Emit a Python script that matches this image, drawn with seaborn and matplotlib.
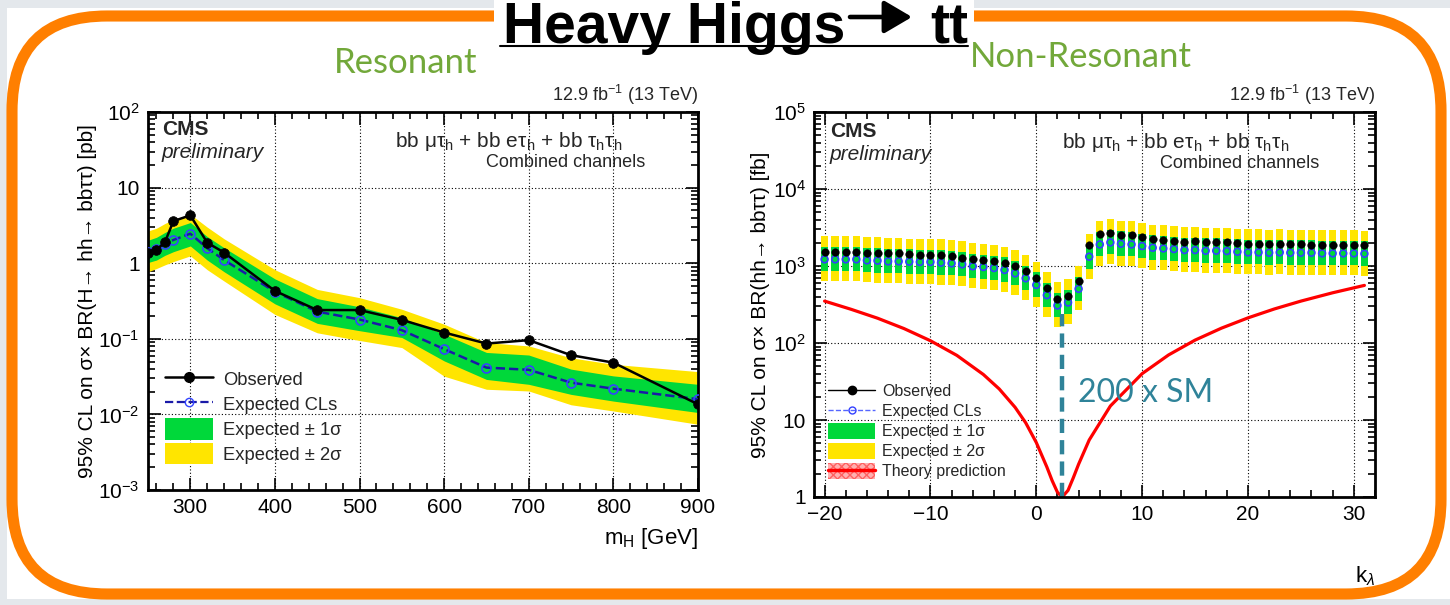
import numpy as np
import matplotlib
matplotlib.use("Agg")
import matplotlib.pyplot as plt
import seaborn as sns
from matplotlib.patches import FancyBboxPatch, Rectangle, Patch, FancyArrowPatch, ArrowStyle
from matplotlib.lines import Line2D
from matplotlib.ticker import FuncFormatter, LogLocator, NullFormatter, MultipleLocator

# ---------------- data: resonant (left) ----------------
res_mass = [250, 260, 270, 280, 300, 320, 340, 400, 450, 500, 550, 600, 650, 700, 750, 800, 900]
res_obs = [1.38, 1.50, 1.90, 3.6, 4.3, 1.87, 1.38, 0.43, 0.24, 0.24, 0.178, 0.121, 0.0865, 0.096, 0.0607, 0.0484, 0.0136]
res_exp = [1.41, 1.55, 1.78, 2.03, 2.46, 1.58, 1.10, 0.42, 0.229, 0.18, 0.13, 0.073, 0.0416, 0.0389, 0.0263, 0.0219, 0.0159]
res_1s_lo = [1.02, 1.10, 1.27, 1.42, 1.69, 1.10, 0.77, 0.29, 0.16, 0.128, 0.104, 0.051, 0.029, 0.025, 0.0184, 0.015, 0.0106]
res_1s_hi = [2.01, 2.20, 2.55, 2.90, 3.45, 2.25, 1.60, 0.62, 0.34, 0.265, 0.19, 0.115, 0.066, 0.061, 0.0397, 0.0323, 0.025]
res_2s_lo = [0.77, 0.85, 0.95, 1.05, 1.25, 0.82, 0.58, 0.21, 0.12, 0.095, 0.0765, 0.032, 0.0215, 0.0204, 0.0134, 0.0111, 0.0074]
res_2s_hi = [2.67, 2.90, 3.35, 3.80, 4.45, 3.00, 2.10, 0.82, 0.45, 0.35, 0.246, 0.156, 0.089, 0.0805, 0.056, 0.046, 0.0368]

# ---------------- data: non-resonant (right) ----------------
kl = list(range(-20, 32))
nr_obs = [1531, 1531, 1516, 1531, 1487, 1473, 1459, 1473, 1443, 1402, 1402, 1374, 1334, 1282, 1232, 1196, 1149,
          1093, 1000, 871, 706, 514, 378, 413, 640, 1870, 2566, 2698, 2541, 2493, 2349, 2255, 2168, 2128, 2064,
          2106, 2024, 2024, 2024, 1983, 1924, 1905, 1924, 1905, 1905, 1905, 1887, 1870, 1870, 1870, 1870, 1851]
nr_exp = [1220, 1220, 1220, 1220, 1183, 1172, 1149, 1149, 1138, 1127, 1127, 1104, 1082, 1051, 991, 971, 942,
          888, 804, 693, 568, 418, 307, 336, 505, 1321, 1905, 2024, 1945, 1905, 1815, 1726, 1691, 1660, 1611,
          1611, 1578, 1578, 1563, 1531, 1503, 1503, 1487, 1503, 1487, 1487, 1487, 1459, 1459, 1459, 1459, 1443]
nr_1s_hi = [1770, 1770, 1770, 1770, 1715, 1700, 1665, 1665, 1650, 1635, 1635, 1600, 1570, 1525, 1435, 1410, 1365,
            1290, 1165, 1005, 825, 605, 445, 490, 730, 1915, 2760, 2935, 2820, 2760, 2630, 2500, 2450, 2405, 2335,
            2335, 2290, 2290, 2265, 2220, 2180, 2180, 2155, 2180, 2155, 2155, 2155, 2115, 2115, 2115, 2115, 2090]
nr_1s_lo = [855, 855, 855, 855, 830, 820, 805, 805, 795, 790, 790, 775, 755, 735, 695, 680, 660,
            620, 565, 485, 400, 295, 215, 235, 355, 925, 1335, 1415, 1360, 1335, 1270, 1210, 1185, 1160, 1130,
            1130, 1105, 1105, 1095, 1070, 1050, 1050, 1040, 1050, 1040, 1040, 1040, 1020, 1020, 1020, 1020, 1010]
nr_2s_hi = [2440, 2440, 2440, 2440, 2365, 2345, 2300, 2300, 2275, 2255, 2255, 2210, 2165, 2100, 1980, 1940, 1885,
            1775, 1610, 1385, 1135, 835, 615, 670, 1010, 2640, 3810, 4050, 3890, 3810, 3630, 3450, 3380, 3320, 3220,
            3220, 3155, 3155, 3125, 3060, 3005, 3005, 2975, 3005, 2975, 2975, 2975, 2920, 2920, 2920, 2920, 2885]
nr_2s_lo = [635, 635, 635, 635, 615, 610, 600, 600, 590, 585, 585, 575, 565, 545, 515, 505, 490,
            460, 420, 360, 295, 215, 160, 175, 265, 685, 990, 1050, 1010, 990, 945, 900, 880, 865, 840,
            840, 820, 820, 815, 795, 780, 780, 775, 780, 775, 775, 775, 760, 760, 760, 760, 750]
theory_kl = [-20, -17.5, -15, -12.5, -10, -7.5, -5, -3.5, -2, -1, 0, 1, 1.5, 2, 2.45, 3, 3.5, 4, 5, 7, 10,
             12.5, 15, 17.5, 20, 22.5, 25, 28, 31]
theory_xs = [350, 274, 210, 154, 107, 69, 39, 25.3, 14.6, 9.2, 5.1, 2.45, 1.63, 1.15, 1.0, 1.22, 1.78, 2.67,
             5.5, 15.2, 40, 70, 109, 156, 212, 277, 350, 449, 560]
sm_min_kl = 2.45
limit_at_min = 240

# ---------------- style ----------------
sns.set_theme(style="ticks")
plt.rcParams['font.family'] = ['Liberation Sans', 'DejaVu Sans']
plt.rcParams['mathtext.fontset'] = 'custom'
plt.rcParams['mathtext.rm'] = 'Liberation Sans'
plt.rcParams['mathtext.it'] = 'Liberation Sans:italic'
plt.rcParams['mathtext.bf'] = 'Liberation Sans:bold'

YELLOW = '#ffe500'
GREEN = '#00d83a'
ORANGE = '#ff7f00'
LGREEN = '#72a83a'
TEAL = '#2f8399'

W, H = 1450, 605
fig = plt.figure(figsize=(14.5, 6.05), dpi=100)
fig.patch.set_facecolor('white')


def fx(px):
    return px / W


def fy(py):
    return 1 - py / H


# slide decoration (drawn below the axes)
fig.patches.append(Rectangle((0, 0), fx(7), 1, transform=fig.transFigure, facecolor='#e4e8ec', lw=0, zorder=-5))
fig.patches.append(Rectangle((0, fy(8)), 1, 8 / H, transform=fig.transFigure, facecolor='#e4e8ec', lw=0, zorder=-5))
fig.patches.append(Rectangle((0, 0), 1, 6 / H, transform=fig.transFigure, facecolor='#e4e8ec', lw=0, zorder=-5))
fig.patches.append(FancyBboxPatch((0.12, 0.11), 14.29, 5.78, boxstyle="round,pad=0,rounding_size=0.95",
                                  transform=fig.dpi_scale_trans, facecolor='white', edgecolor=ORANGE,
                                  lw=8, zorder=-4))
fig.patches.append(Rectangle((fx(494), fy(47)), (974 - 494) / W, 47 / H, transform=fig.transFigure,
                             facecolor='white', lw=0, zorder=-3))
fig.text(fx(503), fy(43), "Heavy Higgs", ha='left', va='baseline', fontsize=41, fontweight='bold',
         family=['Liberation Sans', 'DejaVu Sans'], color='black')
fig.patches.append(FancyArrowPatch((fx(850), fy(17)), (fx(912), fy(17)), transform=fig.transFigure,
                                   arrowstyle=ArrowStyle('-|>', head_length=0.85, head_width=0.5),
                                   mutation_scale=20, lw=3.3, color='black', shrinkA=0, shrinkB=0, zorder=3))
fig.text(fx(968), fy(43), "tt", ha='right', va='baseline', fontsize=41, fontweight='bold',
         family=['Liberation Sans', 'DejaVu Sans'], color='black')
fig.lines.append(Line2D([fx(500), fx(968)], [fy(46), fy(46)], transform=fig.transFigure, color='black', lw=1.5))
fig.text(fx(406), fy(63), "Resonant", ha='center', va='center', fontsize=25, family=['Lato', 'DejaVu Sans'],
         color=LGREEN)
fig.text(fx(1081), fy(57), "Non-Resonant", ha='center', va='center', fontsize=25, family=['Lato', 'DejaVu Sans'],
         color=LGREEN)


def logfmt(v, pos):
    e = int(round(np.log10(v)))
    if e == 0:
        return '1'
    if e == 1:
        return '10'
    return r'$10^{%d}$' % e


def style_axes(ax):
    ax.set_yscale('log')
    ax.yaxis.set_major_locator(LogLocator(base=10, numticks=20))
    ax.yaxis.set_minor_locator(LogLocator(base=10, subs=np.arange(2, 10), numticks=20))
    ax.yaxis.set_minor_formatter(NullFormatter())
    ax.yaxis.set_major_formatter(FuncFormatter(logfmt))
    ax.tick_params(which='both', direction='in', top=True, right=True, labelsize=15, width=1.2, color='black',
                   labelcolor='black')
    ax.tick_params(which='major', length=9, pad=6)
    ax.tick_params(which='minor', length=5)
    for s in ax.spines.values():
        s.set_linewidth(2.0)
        s.set_color('black')
    ax.set_axisbelow(True)
    ax.grid(True, which='major', linestyle=(0, (1, 2)), color='black', lw=0.8)
    ax.set_facecolor('white')


# ---------------- left: resonant ----------------
ax1 = fig.add_axes([fx(148), fy(490), (698 - 148) / W, (490 - 112) / H])
style_axes(ax1)
ax1.fill_between(res_mass, res_2s_lo, res_2s_hi, color=YELLOW, lw=0, zorder=1)
ax1.fill_between(res_mass, res_1s_lo, res_1s_hi, color=GREEN, lw=0, zorder=1.1)
sns.lineplot(x=res_mass, y=res_exp, ax=ax1, color='#1a1aa8', linestyle='--', lw=1.8, marker='o', markersize=6.5,
             markerfacecolor='none', markeredgecolor='#3344ff', markeredgewidth=1.2, legend=False,
             estimator=None, sort=False, zorder=3)
sns.lineplot(x=res_mass, y=res_obs, ax=ax1, color='black', lw=1.8, marker='o', markersize=7,
             markerfacecolor='black', markeredgecolor='black', markeredgewidth=0.5, legend=False,
             estimator=None, sort=False, zorder=4)
ax1.set_xlim(250, 900)
ax1.set_ylim(1e-3, 1e2)
ax1.xaxis.set_major_locator(MultipleLocator(100))
ax1.xaxis.set_minor_locator(MultipleLocator(20))
ax1.set_ylabel("95% CL on σ× BR(H→ hh→ bbττ) [pb]", fontsize=15, color='black')
ax1.yaxis.set_label_coords(-0.093, 0.5)
ax1.set_xlabel(r"m$_{\rm H}$ [GeV]", fontsize=16, color='black', loc='right')
ax1.xaxis.set_label_coords(1.0, -0.095)

ax1.text(0.025, 0.978, "CMS", transform=ax1.transAxes, fontsize=15, fontweight='bold', va='top', ha='left')
ax1.text(0.025, 0.918, "preliminary", transform=ax1.transAxes, fontsize=15, style='italic', va='top', ha='left')
ax1.text(0.449, 0.952, r"bb μτ$_{\rm h}$ + bb eτ$_{\rm h}$ + bb τ$_{\rm h}$τ$_{\rm h}$", transform=ax1.transAxes,
         fontsize=15, va='top', ha='left')
ax1.text(0.76, 0.888, "Combined channels", transform=ax1.transAxes, fontsize=13, va='top', ha='center')
ax1.text(1.0, 1.012, r"12.9 fb$^{-1}$ (13 TeV)", transform=ax1.transAxes, fontsize=13, va='bottom', ha='right')

h_obs = Line2D([], [], color='black', lw=1.8, marker='o', markersize=7)
h_exp = Line2D([], [], color='#1a1aa8', lw=1.6, linestyle='--', marker='o', markersize=6,
               markerfacecolor='none', markeredgecolor='#3344ff')
h_1s = Patch(facecolor=GREEN, edgecolor='none')
h_2s = Patch(facecolor=YELLOW, edgecolor='none')
leg1 = ax1.legend([h_obs, h_exp, h_1s, h_2s], ["Observed", "Expected CLs", "Expected ± 1σ", "Expected ± 2σ"],
                  loc='upper left', bbox_to_anchor=(0.031, 0.321), frameon=False, fontsize=13.2,
                  handlelength=2.6, handleheight=1.4, labelspacing=0.2, handletextpad=0.55, borderpad=0,
                  borderaxespad=0)

# ---------------- right: non-resonant ----------------
ax2 = fig.add_axes([fx(814), fy(497), (1375 - 814) / W, (497 - 112) / H])
style_axes(ax2)
ax2.bar(kl, np.array(nr_2s_hi) - np.array(nr_2s_lo), bottom=nr_2s_lo, width=0.7, color=YELLOW, lw=0, zorder=1)
ax2.bar(kl, np.array(nr_1s_hi) - np.array(nr_1s_lo), bottom=nr_1s_lo, width=0.7, color=GREEN, lw=0, zorder=1.1)
sns.lineplot(x=theory_kl, y=theory_xs, ax=ax2, color='#ff0000', lw=2.3, legend=False, estimator=None,
             sort=False, zorder=2)
ax2.plot([sm_min_kl, sm_min_kl], [1, limit_at_min], color=TEAL, lw=3.2, dashes=(3.2, 1.6), zorder=2.5)
sns.scatterplot(x=kl, y=nr_obs, ax=ax2, color='black', s=30, edgecolor='black', linewidth=0.3, legend=False,
                zorder=4)
sns.scatterplot(x=kl, y=nr_exp, ax=ax2, marker='o', s=24, facecolor='none', edgecolor='#3340ff', linewidth=1.2,
                legend=False, zorder=3)
ax2.set_xlim(-21, 32)
ax2.set_ylim(1, 1e5)
ax2.xaxis.set_major_locator(MultipleLocator(10))
ax2.xaxis.set_minor_locator(MultipleLocator(2))
ax2.xaxis.set_major_formatter(FuncFormatter(lambda v, p: ('%d' % v).replace('-', '\u2212')))
ax2.set_ylabel("95% CL on σ× BR(hh→ bbττ) [fb]", fontsize=15, color='black')
ax2.yaxis.set_label_coords(-0.078, 0.5)
ax2.set_xlabel(r"k$_{\lambda}$", fontsize=16, color='black', loc='right')
ax2.xaxis.set_label_coords(1.0, -0.175)

ax2.text(0.0285, 0.974, "CMS", transform=ax2.transAxes, fontsize=15, fontweight='bold', va='top', ha='left')
ax2.text(0.0285, 0.914, "preliminary", transform=ax2.transAxes, fontsize=15, style='italic', va='top', ha='left')
ax2.text(0.442, 0.951, r"bb μτ$_{\rm h}$ + bb eτ$_{\rm h}$ + bb τ$_{\rm h}$τ$_{\rm h}$", transform=ax2.transAxes,
         fontsize=15, va='top', ha='left')
ax2.text(0.759, 0.888, "Combined channels", transform=ax2.transAxes, fontsize=13, va='top', ha='center')
ax2.text(1.0, 1.012, r"12.9 fb$^{-1}$ (13 TeV)", transform=ax2.transAxes, fontsize=13, va='bottom', ha='right')
ax2.text(0.470, 0.27, "200 x SM", transform=ax2.transAxes, fontsize=23, color=TEAL, va='center', ha='left',
         family=['Lato', 'DejaVu Sans'])

h2_obs = Line2D([], [], color='black', lw=1.0, marker='o', markersize=6)
h2_exp = Line2D([], [], color='#5566ff', lw=1.0, linestyle='--', marker='o', markersize=5,
                markerfacecolor='none', markeredgecolor='#3340ff')
h2_th = (Patch(facecolor='#ffb0b0', edgecolor='#ff6060', hatch='xxxx', lw=0), Line2D([], [], color='#ff0000', lw=2.5))
leg2 = ax2.legend([h2_obs, h2_exp, h_1s, h_2s, h2_th],
                  ["Observed", "Expected CLs", "Expected ± 1σ", "Expected ± 2σ", "Theory prediction"],
                  loc='upper left', bbox_to_anchor=(0.025, 0.296), frameon=False, fontsize=11.5,
                  handlelength=2.95, handleheight=1.1, labelspacing=0.25, handletextpad=0.45, borderpad=0,
                  borderaxespad=0)

fig.savefig("out.png", dpi=100)
